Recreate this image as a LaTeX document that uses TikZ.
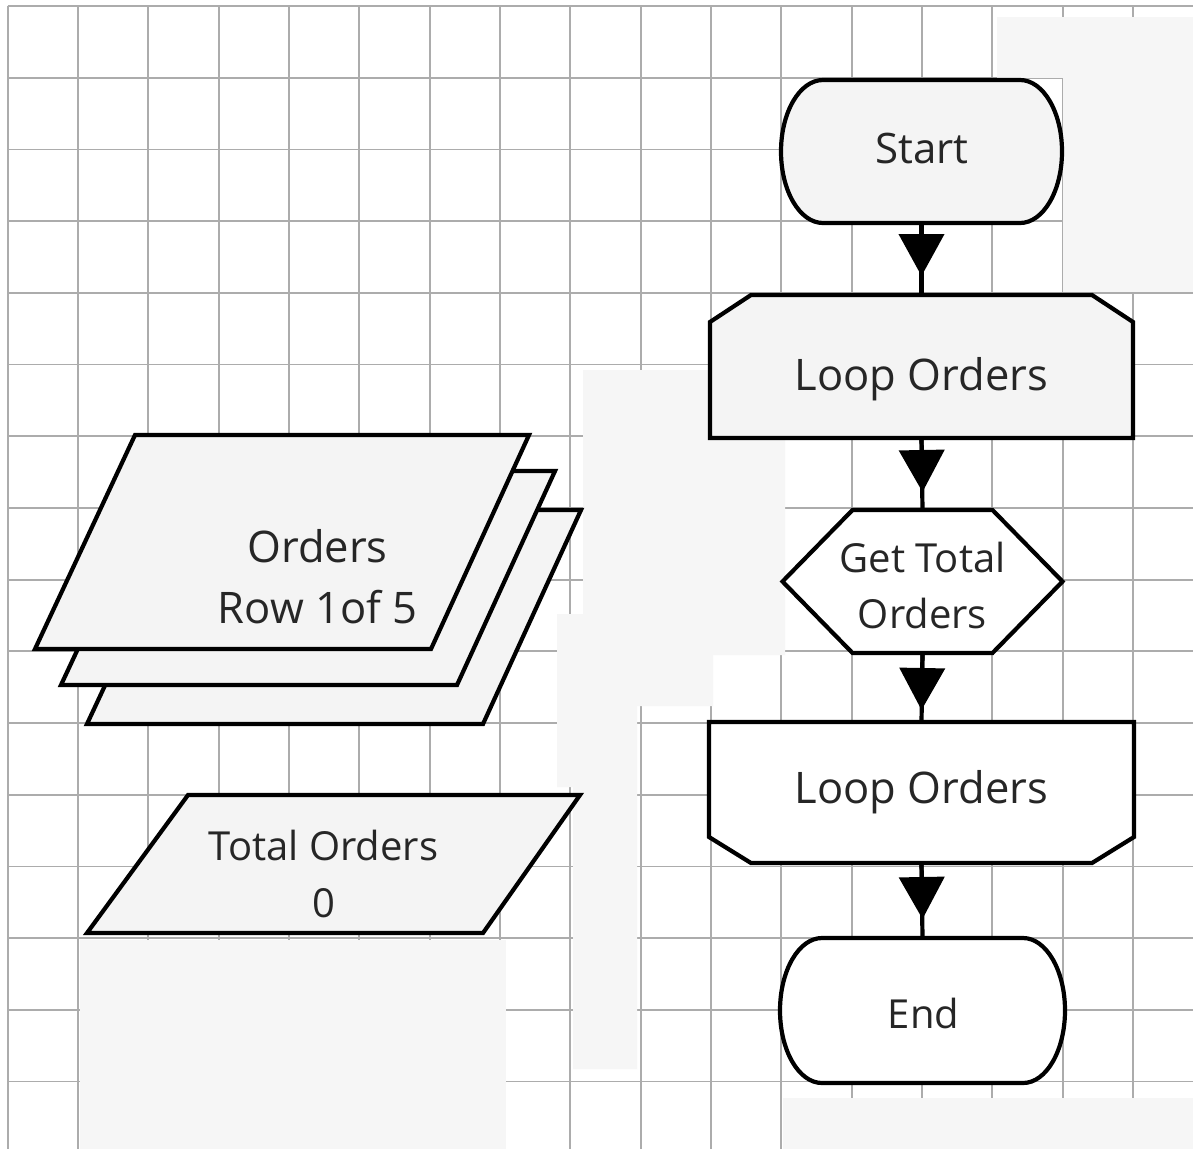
\documentclass[tikz,border=0pt]{standalone}
\usepackage{fontspec}
\setmainfont{Open Sans}
\usetikzlibrary{arrows.meta,calc}
\pgfdeclarelayer{bg}
\pgfdeclarelayer{shp}
\pgfsetlayers{bg,shp,main}
\definecolor{gridc}{RGB}{172,172,172}
\definecolor{patchc}{RGB}{246,246,246}
\definecolor{shfill}{RGB}{244,244,244}
\definecolor{txtc}{RGB}{38,38,38}
\tikzset{
  frame/.style={draw=none, inner sep=0pt, outer sep=0pt, rectangle},
  shapeline/.style={draw=black, line width=4.2pt, line join=miter},
  conn/.style={draw=black, line width=4.2pt},
  tipc/.style={draw=black, line width=4.2pt, -{Triangle[length=42pt,width=45pt]}},
  lbl/.style={text=txtc, inner sep=0pt, anchor=base},
  lbltwo/.style={text=txtc, inner sep=0pt, align=center},
  gridline/.style={draw=gridc, line width=1.8pt},
  patch/.style={fill=patchc, draw=none},
}
\begin{document}
\begin{tikzpicture}[x=1pt, y=-1pt]
\useasboundingbox (0,0) rectangle (1193,1149);
\begin{pgfonlayer}{bg}
  \fill[white] (0,0) rectangle (1193,1149);
  \foreach \k in {0,...,16} \draw[gridline] ({7.7+70.33*\k},6) -- ({7.7+70.33*\k},1149);
  \foreach \k in {0,...,15} \draw[gridline] (7.7,{6+71.7*\k}) -- (1193,{6+71.7*\k});
  % light patches of the reference background
  \path[patch] (1063,17) rectangle (1193,292);
  \path[patch] (997,17) rectangle (1063,78);
  \path[patch] (583,370) -- (710,370) -- (710,440) -- (785,440) -- (785,655) -- (713,655)
     -- (713,706) -- (637,706) -- (637,1069) -- (573,1069) -- (573,787) -- (557,787)
     -- (557,614) -- (583,614) -- cycle;
  \path[patch] (80,940) rectangle (506,1149);
  \path[patch] (783,1098) rectangle (1193,1149);
\end{pgfonlayer}

% frames of the flow chart shapes
\node[frame, minimum width=281pt, minimum height=143pt] (start) at (921.5,151.5) {};
\node[frame, minimum width=423pt, minimum height=143pt] (loop1) at (921.5,366.5) {};
\node[frame, minimum width=280pt, minimum height=143pt] (hex)   at (922.5,581.5) {};
\node[frame, minimum width=425pt, minimum height=141pt] (loop2) at (921.5,792.5) {};
\node[frame, minimum width=285pt, minimum height=145pt] (end)   at (922.5,1010.5) {};

\begin{pgfonlayer}{shp}
  % Start terminator
  \draw[shapeline, fill=shfill] ([xshift=42pt]start.north west) -- ([xshift=-42pt]start.north east)
     arc[start angle=90, end angle=-90, x radius=42pt, y radius=71.5pt]
     -- ([xshift=42pt]start.south west)
     arc[start angle=-90, end angle=-270, x radius=42pt, y radius=71.5pt] -- cycle;
  % Loop limit (top)
  \draw[shapeline, fill=shfill] ([xshift=41pt]loop1.north west) -- ([xshift=-41pt]loop1.north east)
     -- ([yshift=-27pt]loop1.north east) -- (loop1.south east) -- (loop1.south west)
     -- ([yshift=-27pt]loop1.north west) -- cycle;
  % Preparation hexagon
  \draw[shapeline, fill=white] (hex.west) -- ([xshift=70pt]hex.north west) -- ([xshift=-70pt]hex.north east)
     -- (hex.east) -- ([xshift=-70pt]hex.south east) -- ([xshift=70pt]hex.south west) -- cycle;
  % Loop limit (bottom)
  \draw[shapeline, fill=white] (loop2.north west) -- (loop2.north east) -- ([yshift=26pt]loop2.south east)
     -- ([xshift=-42pt]loop2.south east) -- ([xshift=42pt]loop2.south west)
     -- ([yshift=26pt]loop2.south west) -- cycle;
  % End terminator
  \draw[shapeline, fill=white] ([xshift=42pt]end.north west) -- ([xshift=-42pt]end.north east)
     arc[start angle=90, end angle=-90, x radius=42pt, y radius=72.5pt]
     -- ([xshift=42pt]end.south west)
     arc[start angle=-90, end angle=-270, x radius=42pt, y radius=72.5pt] -- cycle;
  % stacked data (multiple documents)
  \draw[shapeline, fill=shfill] (187,510) -- (581,510) -- (483,724) -- (87,724) -- cycle;
  \draw[shapeline, fill=shfill] (161,471) -- (555,471) -- (457,685) -- (61,685) -- cycle;
  \draw[shapeline, fill=shfill] (135,435) -- (529,435) -- (431,649) -- (35,649) -- cycle;
  % Total Orders data
  \draw[shapeline, fill=shfill] (188,795) -- (580,795) -- (483,933) -- (87,933) -- cycle;
\end{pgfonlayer}

% texts
\node[lbl, font=\fontsize{42}{50}\selectfont] (startT) at (922,163) {Start};
\node[lbl, font=\fontsize{43.5}{50}\selectfont] (loop1T) at (921.5,390) {Loop Orders};
\node[lbltwo, font=\fontsize{40}{56}\selectfont] (hexT) at (922.5,585.2) {Get Total\\Orders};
\node[lbl, font=\fontsize{43.5}{50}\selectfont] (loop2T) at (921.5,803) {Loop Orders};
\node[lbl, font=\fontsize{40}{50}\selectfont] (endT) at (923.5,1028) {End};
\node[lbltwo, font=\fontsize{43.5}{61}\selectfont] (ordersT) at (317.5,576.5) {Orders\\Row 1of 5};
\node[lbltwo, font=\fontsize{40}{57}\selectfont] (totalT) at (323.5,873.6) {Total Orders\\0};

% connectors
\draw[conn] (start.south) -- (loop1.north);
\draw[tipc] (start.south) -- ([yshift=19pt]loop1.north);
\draw[conn] (loop1.south) -- (hex.north);
\draw[tipc] (loop1.south) -- ([yshift=18pt]hex.north);
\draw[conn] (hex.south) -- (loop2.north);
\draw[tipc] (hex.south) -- ([yshift=12pt]loop2.north);
\draw[conn] (loop2.south) -- (end.north);
\draw[tipc] (loop2.south) -- ([yshift=19pt]end.north);
\end{tikzpicture}
\end{document}
